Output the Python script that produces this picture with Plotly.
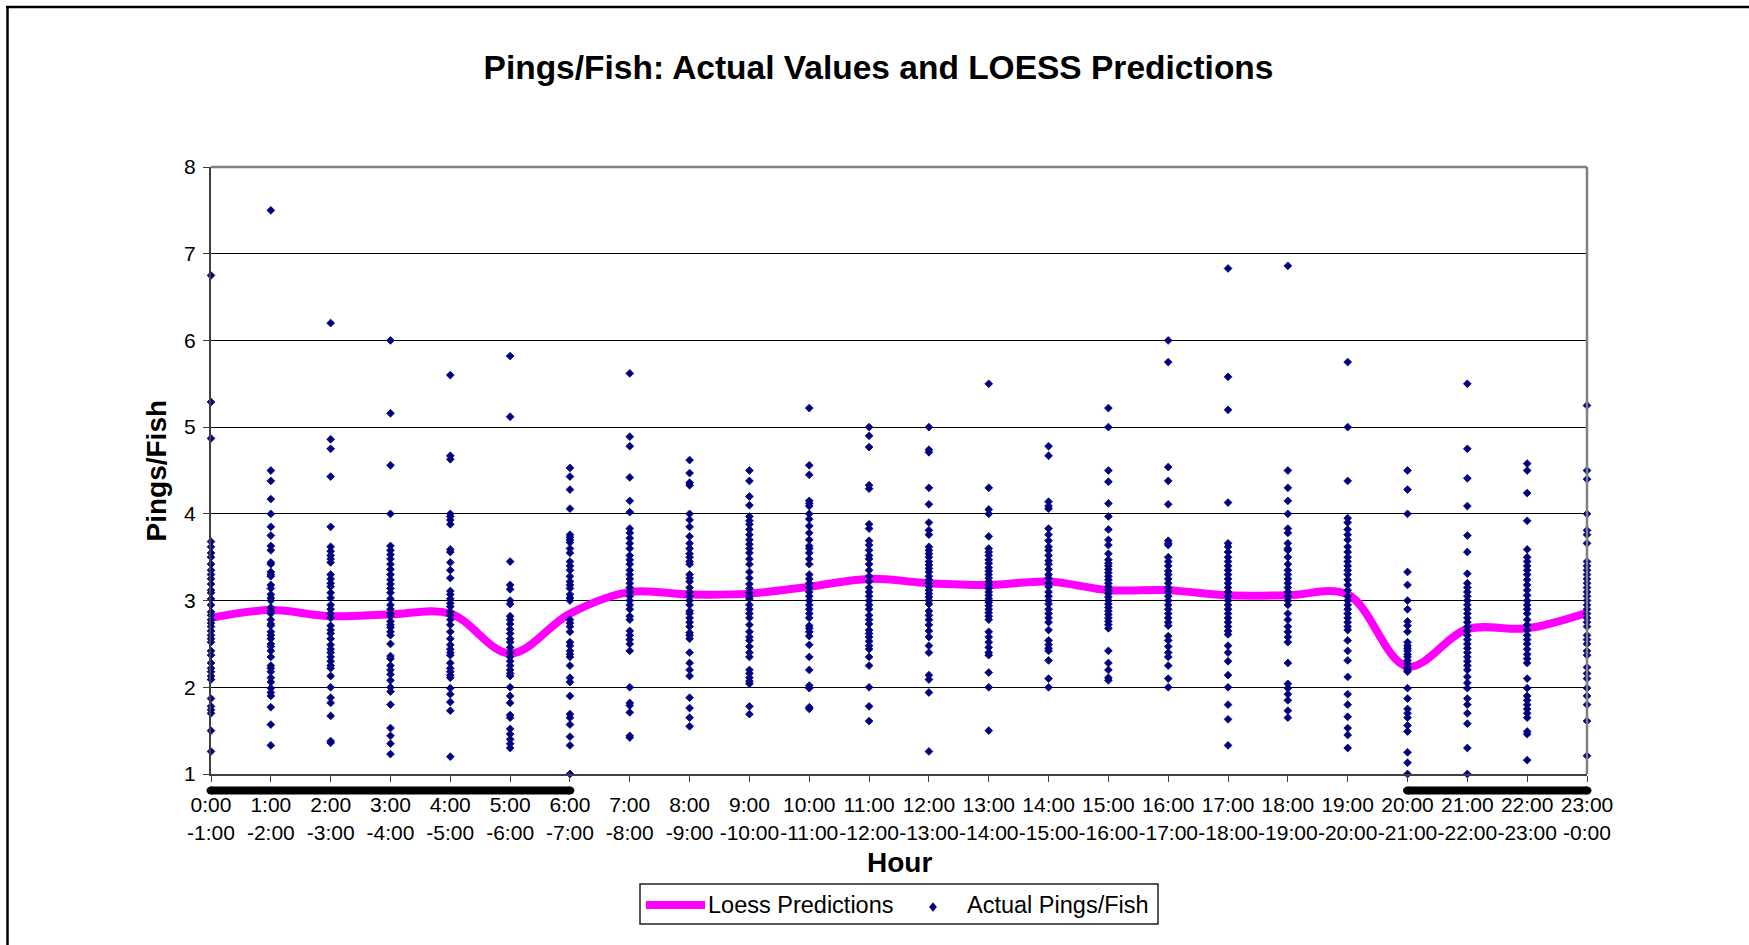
import plotly.graph_objects as go

# ---------------- data ----------------
hour_labels = [f"{h}:00<br>-{(h + 1) % 24}:00" for h in range(24)]
hours = list(range(24))

h00 = [6.75, 5.29, 4.87, 3.68, 3.62, 3.55, 3.5, 3.42, 3.35, 3.3, 3.25, 3.19, 3.12, 3.09, 3.02, 2.95, 2.87, 2.83, 2.78, 2.74, 2.7, 2.65, 2.6, 2.56, 2.52, 2.42, 2.37, 2.28, 2.22, 2.18, 2.13, 2.09, 1.87, 1.78, 1.74, 1.7, 1.5, 1.26]
h01 = [7.5, 4.5, 4.38, 4.17, 4.0, 3.85, 3.75, 3.63, 3.58, 3.44, 3.42, 3.33, 3.3, 3.28, 3.18, 3.14, 3.07, 3.03, 3.0, 2.92, 2.88, 2.85, 2.78, 2.73, 2.71, 2.64, 2.6, 2.56, 2.5, 2.47, 2.42, 2.35, 2.25, 2.22, 2.18, 2.11, 2.06, 1.99, 1.94, 1.9, 1.77, 1.57, 1.33]
h02 = [6.2, 4.86, 4.75, 4.43, 3.85, 3.62, 3.57, 3.52, 3.48, 3.44, 3.3, 3.25, 3.2, 3.16, 3.09, 3.03, 2.95, 2.9, 2.85, 2.8, 2.71, 2.66, 2.62, 2.56, 2.49, 2.44, 2.4, 2.35, 2.3, 2.25, 2.22, 2.13, 2.0, 1.88, 1.82, 1.67, 1.38, 1.36]
h03 = [6.0, 5.16, 4.56, 4.0, 3.63, 3.58, 3.53, 3.48, 3.42, 3.36, 3.3, 3.24, 3.19, 3.14, 3.09, 3.02, 2.95, 2.9, 2.85, 2.82, 2.76, 2.72, 2.69, 2.64, 2.6, 2.5, 2.36, 2.33, 2.25, 2.2, 2.15, 2.08, 2.0, 1.95, 1.8, 1.53, 1.44, 1.35, 1.23]
h04 = [5.6, 4.67, 4.63, 4.0, 3.97, 3.93, 3.88, 3.59, 3.56, 3.44, 3.35, 3.26, 3.11, 3.07, 3.02, 2.97, 2.93, 2.87, 2.83, 2.78, 2.72, 2.64, 2.56, 2.49, 2.44, 2.4, 2.37, 2.28, 2.22, 2.18, 2.14, 2.11, 1.99, 1.92, 1.83, 1.73, 1.2]
h05 = [5.82, 5.12, 3.45, 3.18, 3.13, 3.0, 2.96, 2.82, 2.78, 2.73, 2.67, 2.62, 2.56, 2.52, 2.46, 2.4, 2.35, 2.3, 2.25, 2.2, 2.16, 2.13, 2.0, 1.9, 1.82, 1.68, 1.65, 1.52, 1.46, 1.4, 1.35, 1.3]
h06 = [4.53, 4.43, 4.28, 4.06, 3.76, 3.73, 3.7, 3.67, 3.6, 3.55, 3.45, 3.4, 3.35, 3.28, 3.22, 3.18, 3.14, 3.07, 3.03, 3.0, 2.78, 2.74, 2.7, 2.64, 2.52, 2.48, 2.42, 2.38, 2.35, 2.25, 2.11, 2.06, 1.9, 1.69, 1.65, 1.57, 1.43, 1.33, 1.0]
h07 = [5.62, 4.89, 4.78, 4.42, 4.15, 4.02, 3.83, 3.78, 3.72, 3.66, 3.6, 3.52, 3.47, 3.42, 3.35, 3.3, 3.25, 3.2, 3.15, 3.1, 3.05, 3.0, 2.95, 2.9, 2.82, 2.78, 2.65, 2.6, 2.55, 2.5, 2.42, 2.0, 1.82, 1.79, 1.71, 1.44, 1.42]
h08 = [4.62, 4.47, 4.36, 4.33, 4.0, 3.93, 3.85, 3.74, 3.66, 3.6, 3.54, 3.5, 3.45, 3.42, 3.3, 3.26, 3.22, 3.15, 3.1, 3.05, 3.0, 2.95, 2.88, 2.85, 2.8, 2.75, 2.7, 2.63, 2.6, 2.56, 2.4, 2.28, 2.2, 2.13, 1.88, 1.76, 1.65, 1.55]
h09 = [4.5, 4.38, 4.2, 4.1, 3.97, 3.92, 3.88, 3.82, 3.76, 3.7, 3.65, 3.6, 3.55, 3.48, 3.42, 3.33, 3.26, 3.19, 3.14, 3.09, 3.05, 3.02, 2.95, 2.9, 2.85, 2.8, 2.72, 2.64, 2.58, 2.54, 2.47, 2.4, 2.35, 2.2, 2.16, 2.11, 2.07, 2.04, 1.78, 1.69]
h10 = [5.22, 4.56, 4.45, 4.15, 4.12, 4.09, 4.0, 3.94, 3.86, 3.78, 3.7, 3.63, 3.6, 3.55, 3.48, 3.42, 3.3, 3.25, 3.2, 3.15, 3.1, 3.05, 3.0, 2.95, 2.9, 2.85, 2.8, 2.71, 2.68, 2.64, 2.59, 2.49, 2.35, 2.2, 2.02, 1.99, 1.77, 1.75]
h11 = [5.0, 4.9, 4.77, 4.33, 4.29, 3.88, 3.83, 3.69, 3.64, 3.58, 3.52, 3.48, 3.42, 3.35, 3.28, 3.22, 3.15, 3.1, 3.05, 3.0, 2.95, 2.9, 2.83, 2.78, 2.73, 2.66, 2.62, 2.58, 2.53, 2.48, 2.44, 2.35, 2.25, 2.0, 1.78, 1.61]
h12 = [5.0, 4.74, 4.71, 4.3, 4.11, 3.9, 3.81, 3.76, 3.62, 3.58, 3.54, 3.5, 3.45, 3.41, 3.37, 3.33, 3.28, 3.24, 3.2, 3.16, 3.12, 3.08, 3.04, 3.0, 2.96, 2.88, 2.83, 2.78, 2.72, 2.65, 2.58, 2.48, 2.4, 2.14, 2.09, 1.94, 1.26]
h13 = [5.5, 4.3, 4.05, 4.0, 3.74, 3.6, 3.56, 3.52, 3.47, 3.43, 3.38, 3.34, 3.3, 3.26, 3.22, 3.18, 3.14, 3.1, 3.06, 3.02, 2.98, 2.94, 2.9, 2.86, 2.82, 2.78, 2.64, 2.58, 2.52, 2.46, 2.4, 2.37, 2.17, 2.0, 1.5]
h14 = [4.78, 4.67, 4.14, 4.09, 4.06, 3.83, 3.76, 3.69, 3.62, 3.58, 3.52, 3.46, 3.42, 3.36, 3.3, 3.26, 3.2, 3.16, 3.1, 3.05, 3.0, 2.96, 2.9, 2.85, 2.8, 2.75, 2.66, 2.54, 2.49, 2.45, 2.42, 2.31, 2.1, 2.0]
h15 = [5.22, 5.0, 4.5, 4.37, 4.12, 3.97, 3.82, 3.7, 3.64, 3.54, 3.47, 3.43, 3.4, 3.36, 3.32, 3.28, 3.24, 3.2, 3.16, 3.12, 3.08, 3.04, 3.0, 2.96, 2.92, 2.88, 2.84, 2.8, 2.76, 2.72, 2.68, 2.42, 2.28, 2.2, 2.11, 2.08]
h16 = [6.0, 5.75, 4.54, 4.38, 4.11, 3.69, 3.66, 3.64, 3.5, 3.45, 3.4, 3.34, 3.3, 3.25, 3.2, 3.15, 3.1, 3.05, 3.0, 2.95, 2.9, 2.85, 2.8, 2.75, 2.71, 2.59, 2.54, 2.47, 2.4, 2.35, 2.25, 2.1, 2.0]
h17 = [6.83, 5.58, 5.2, 4.13, 3.66, 3.62, 3.56, 3.5, 3.45, 3.4, 3.35, 3.3, 3.25, 3.2, 3.15, 3.1, 3.05, 3.0, 2.95, 2.9, 2.85, 2.8, 2.75, 2.7, 2.65, 2.61, 2.48, 2.4, 2.3, 2.14, 2.0, 1.8, 1.63, 1.33]
h18 = [6.86, 4.5, 4.3, 4.15, 4.0, 3.83, 3.78, 3.66, 3.6, 3.58, 3.5, 3.42, 3.35, 3.3, 3.25, 3.2, 3.15, 3.1, 3.05, 3.0, 2.95, 2.85, 2.78, 2.7, 2.64, 2.58, 2.52, 2.28, 2.04, 1.99, 1.92, 1.85, 1.73, 1.65]
h19 = [5.75, 5.0, 4.38, 3.95, 3.9, 3.82, 3.76, 3.7, 3.62, 3.56, 3.5, 3.45, 3.4, 3.35, 3.3, 3.24, 3.18, 3.12, 3.05, 3.0, 2.95, 2.9, 2.85, 2.8, 2.75, 2.7, 2.66, 2.54, 2.42, 2.31, 2.12, 1.92, 1.8, 1.66, 1.53, 1.45, 1.3]
h20 = [4.5, 4.28, 4.0, 3.33, 3.18, 3.0, 2.9, 2.76, 2.71, 2.64, 2.52, 2.48, 2.45, 2.42, 2.38, 2.35, 2.31, 2.27, 2.23, 2.2, 2.18, 1.99, 1.87, 1.75, 1.7, 1.65, 1.56, 1.49, 1.25, 1.13, 1.0]
h21 = [5.5, 4.75, 4.41, 4.09, 3.75, 3.56, 3.31, 3.2, 3.15, 3.1, 3.05, 3.0, 2.95, 2.9, 2.85, 2.8, 2.75, 2.7, 2.65, 2.6, 2.55, 2.5, 2.45, 2.4, 2.35, 2.3, 2.25, 2.2, 2.12, 2.05, 1.99, 1.87, 1.8, 1.7, 1.58, 1.3, 1.0]
h22 = [4.58, 4.5, 4.24, 3.92, 3.59, 3.5, 3.45, 3.4, 3.35, 3.3, 3.24, 3.18, 3.12, 3.06, 3.0, 2.95, 2.9, 2.85, 2.78, 2.72, 2.66, 2.6, 2.55, 2.5, 2.44, 2.38, 2.33, 2.28, 2.1, 1.99, 1.9, 1.85, 1.8, 1.75, 1.7, 1.65, 1.49, 1.46, 1.16]
h23 = [5.25, 4.5, 4.4, 4.0, 3.81, 3.76, 3.66, 3.45, 3.4, 3.35, 3.3, 3.25, 3.2, 3.15, 3.1, 3.05, 3.0, 2.95, 2.9, 2.85, 2.8, 2.75, 2.7, 2.6, 2.55, 2.5, 2.42, 2.37, 2.23, 2.16, 2.1, 1.99, 1.9, 1.8, 1.61, 1.21]

loess = [2.8, 2.89, 2.82, 2.84, 2.85, 2.39, 2.85, 3.1, 3.07, 3.08, 3.16, 3.25, 3.2,
         3.18, 3.22, 3.12, 3.12, 3.06, 3.06, 3.07, 2.24, 2.67, 2.68, 2.86]

night_periods = [(0, 6), (20, 23)]

actual = [h00, h01, h02, h03, h04, h05, h06, h07, h08, h09, h10, h11,
          h12, h13, h14, h15, h16, h17, h18, h19, h20, h21, h22, h23]

LINE_NAME = "Loess Predictions"
POINT_NAME = "Actual Pings/Fish"
LINE_COLOR = "#FF00FF"
POINT_COLOR = "#000080"

# ---------------- layout geometry (page pixels) ----------------
W, H = 1749, 945
ML, MR, MT, MB = 211, 162, 167, 171
PW, PH = W - ML - MR, H - MT - MB
XMIN, XMAX = 0, 23
YMIN, YMAX = 1, 8
FONT = "Liberation Sans, Arial, sans-serif"


def px_x(px):
    return (px - ML) / PW


def px_y(py):
    return (H - MB - py) / PH


def data_x_to_paper(x):
    return (x - XMIN) / (XMAX - XMIN)


xs, ys = [], []
for h, vals in zip(hours, actual):
    xs.extend([h] * len(vals))
    ys.extend(vals)

fig = go.Figure()
fig.add_trace(go.Scatter(
    x=hours, y=loess, mode="lines", name=LINE_NAME,
    line=dict(color=LINE_COLOR, width=8, shape="spline", smoothing=1.0),
    cliponaxis=False, showlegend=False,
))
fig.add_trace(go.Scatter(
    x=xs, y=ys, mode="markers", name=POINT_NAME,
    marker=dict(symbol="diamond", size=6, color=POINT_COLOR,
                line=dict(width=0.8, color=POINT_COLOR)),
    cliponaxis=False, showlegend=False,
))

shapes = []
# plot-area border (top, right) in gray
shapes.append(dict(type="line", xref="paper", yref="paper", x0=0, x1=1, y0=1, y1=1,
                   line=dict(color="#808080", width=2.5), layer="above"))
shapes.append(dict(type="line", xref="paper", yref="paper", x0=1, x1=1, y0=0, y1=1,
                   line=dict(color="#808080", width=2.5), layer="above"))
# outer chart frame (top and left visible)
shapes.append(dict(type="line", xref="paper", yref="paper", x0=px_x(6), x1=px_x(W + 5),
                   y0=px_y(7), y1=px_y(7), line=dict(color="black", width=2.5)))
shapes.append(dict(type="line", xref="paper", yref="paper", x0=px_x(7.5), x1=px_x(7.5),
                   y0=px_y(6), y1=px_y(H + 5), line=dict(color="black", width=2.5)))

# night bars below the axis
bar_y = px_y(790.5)
for a, b in night_periods:
    xa, xb = data_x_to_paper(a), data_x_to_paper(b)
    shapes.append(dict(type="line", xref="paper", yref="paper", x0=xa, x1=xb,
                       y0=bar_y, y1=bar_y, line=dict(color="black", width=8)))
    for xc in (xa, xb):
        shapes.append(dict(type="circle", xref="paper", yref="paper",
                           xsizemode="pixel", ysizemode="pixel",
                           xanchor=xc, yanchor=bar_y, x0=-4.5, x1=4.5, y0=-4, y1=4,
                           fillcolor="black", line=dict(width=0)))

# custom legend (box, line sample, diamond sample)
shapes.append(dict(type="rect", xref="paper", yref="paper",
                   x0=px_x(640), x1=px_x(1158), y0=px_y(884), y1=px_y(924),
                   line=dict(color="#202020", width=1.5), fillcolor="white", layer="above"))
shapes.append(dict(type="line", xref="paper", yref="paper",
                   x0=px_x(646), x1=px_x(705), y0=px_y(905), y1=px_y(905),
                   line=dict(color=LINE_COLOR, width=8), layer="above"))
shapes.append(dict(type="path", xref="paper", yref="paper",
                   xsizemode="pixel", ysizemode="pixel",
                   xanchor=px_x(933), yanchor=px_y(907),
                   path="M0,4.5 L3.6,0 L0,-4.5 L-3.6,0 Z",
                   fillcolor=POINT_COLOR, line=dict(width=0.5, color=POINT_COLOR),
                   layer="above"))

annotations = [
    dict(text="Pings/Fish", xref="paper", yref="paper", x=px_x(156), y=0.5,
         textangle=-90, showarrow=False, xanchor="center", yanchor="middle",
         font=dict(family=FONT, size=28, color="black", weight="bold")),
    dict(text="Hour", xref="paper", yref="paper", x=0.5, y=px_y(862),
         showarrow=False, xanchor="center", yanchor="middle",
         font=dict(family=FONT, size=28, color="black", weight="bold")),
    dict(text=LINE_NAME, xref="paper", yref="paper", x=px_x(706), y=px_y(905),
         showarrow=False, xanchor="left", yanchor="middle",
         font=dict(family=FONT, size=23.5, color="black")),
    dict(text=POINT_NAME, xref="paper", yref="paper", x=px_x(965), y=px_y(905),
         showarrow=False, xanchor="left", yanchor="middle",
         font=dict(family=FONT, size=23.5, color="black")),
]

fig.update_layout(
    width=W, height=H,
    margin=dict(l=ML, r=MR, t=MT, b=MB, autoexpand=False),
    paper_bgcolor="white", plot_bgcolor="white",
    font=dict(family=FONT, color="black", size=21),
    showlegend=False,
    title=dict(text="Pings/Fish: Actual Values and LOESS Predictions",
               x=878.5 / W, xref="container", xanchor="center",
               y=1 - 67 / H, yref="container", yanchor="middle",
               font=dict(family=FONT, size=33.5, color="black", weight="bold")),
    xaxis=dict(range=[XMIN, XMAX], tickmode="array", tickvals=hours, ticktext=hour_labels,
               tickangle=0,
               showgrid=False, zeroline=False, showline=True, linecolor="#404040",
               linewidth=2, ticks="outside", ticklen=6, tickcolor="#404040",
               tickfont=dict(family=FONT, size=21, color="black"),
               ticklabelstandoff=5),
    yaxis=dict(range=[YMIN, YMAX], dtick=1, showgrid=True, gridcolor="black",
               gridwidth=1, zeroline=False, showline=True, linecolor="#404040",
               linewidth=2, ticks="outside", ticklen=6, tickcolor="#404040",
               tickfont=dict(family=FONT, size=21, color="black"),
               ticklabelstandoff=3),
    shapes=shapes, annotations=annotations,
)

fig.write_html("out.html",
               config={"displayModeBar": False},
               post_script="document.body.style.margin='0';"
                           "document.body.style.overflow='hidden';")
